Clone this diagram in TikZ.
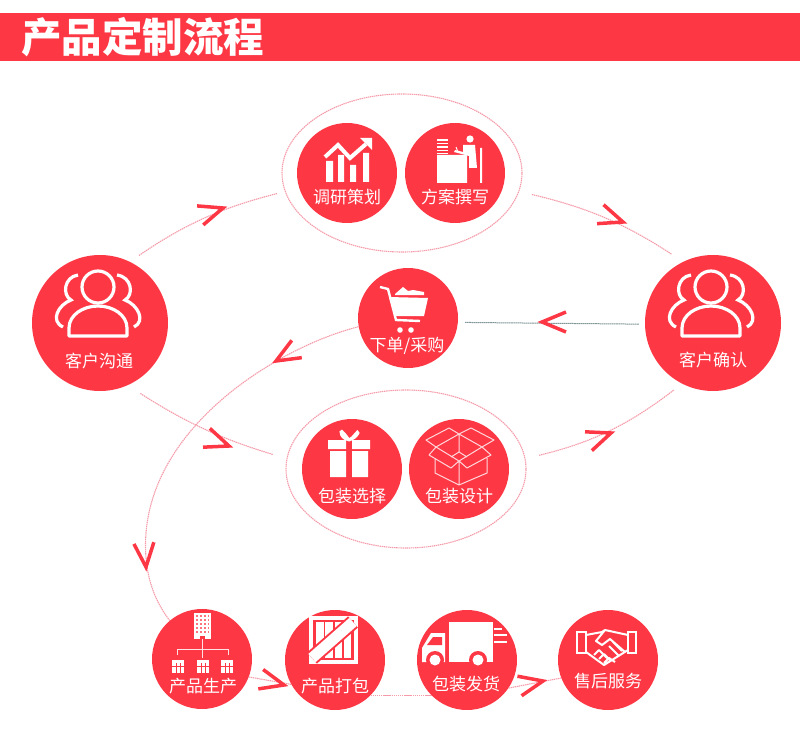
\documentclass[tikz,border=0pt]{standalone}
\usepackage{fontspec}
\setmainfont{Noto Sans CJK SC}
\usetikzlibrary{shapes.geometric}

\definecolor{flow}{HTML}{FE3745}
\definecolor{trail}{HTML}{F59AA8}
\definecolor{rule}{HTML}{7F9597}

\tikzset{
    chevron/.pic={\draw[flow,line width=3.5pt,miter limit=6] (-24,-10) -- (0,0) -- (-24,10);},
    people/.pic={
        \draw[white,line width=3.2pt] (-2,-36) circle (16);
        \draw[white,line width=3.2pt,line join=round] (-31,13) -- (27,13) -- (27,5)
            .. controls (27,-8) and (13,-17) .. (-2,-17)
            .. controls (-17,-17) and (-31,-8) .. (-31,5) -- cycle;
        \draw[white,line width=3.2pt] (-22,-48) .. controls (-36,-46) and (-38,-28) .. (-29,-23)
            .. controls (-42,-18) and (-50,-2) .. (-37,4);
        \draw[white,line width=3.2pt] (17,-48) .. controls (32,-46) and (34,-28) .. (25,-23)
            .. controls (38,-18) and (46,-2) .. (34,4);
    },
    trend/.pic={
        \fill[white] (-21,-12) rectangle (-14,9) (-9,-18) rectangle (-3,9)
            (3,-8) rectangle (9,9) (16,-20) rectangle (22,9);
        \draw[white,line width=4pt] (-22,-16) -- (-9,-28) -- (3,-15) -- (19,-29);
        \fill[white] (13,-35) -- (25,-35) -- (25,-23) -- cycle;
    },
    desk/.pic={
        \fill[white] (-18,-18) rectangle (12,10) (25,-25) rectangle (27,10);
        \fill[white] (15,-34) circle (3.6);
        \fill[white] (8,-28) -- (20,-28) -- (22,-5) -- (14,-5) -- (14,-17) -- (-1,-21) -- (0,-23) -- (8,-21) -- cycle;
        \draw[white,line width=1pt] (1,-26) -- (3,-21);
        \foreach \rowy in {-33,-29.5,-26,-22.5,-19.5} \draw[white,line width=1.6pt] (-18,\rowy) -- (-7,\rowy);
    },
    cart/.pic={
        \draw[white,line width=2.4pt] (-28,-31) -- (-20,-29) -- (-12,2) -- (12,3);
        \fill[white] (-19,-21) -- (20,-20) -- (16,-2) -- (-13,-2) -- cycle;
        \fill[white] (-13,-24) -- (-5,-31) -- (0,-27) -- (5,-28) -- (16,-26) -- (16,-23) -- (-13,-23) -- cycle;
        \fill[white] (-8,12) circle (2.8) (3,12) circle (2.8);
    },
    gift/.pic={
        \fill[white] (-24,-29) rectangle (-6,-20) (0,-29) rectangle (18,-20)
            (-22,-18) rectangle (-6,8) (0,-18) rectangle (16,8);
        \draw[white,line width=2.8pt] (-3,-29) .. controls (-6,-33) and (-11,-40) .. (-11,-37)
            .. controls (-11,-33) and (-8,-30) .. (-3,-29)
            .. controls (2,-31) and (6,-40) .. (6,-36) .. controls (5,-33) and (1,-30) .. (-3,-29);
    },
    carton/.pic={
        \draw[white!80!flow,line width=1pt,line join=round]
            (0,-35) -- (-10,-41) -- (-33,-29) -- (-23,-22) -- (0,-8) -- (23,-22) -- (35,-29) -- (12,-41) -- (0,-35)
            (-23,-22) -- (0,-35) -- (23,-22)
            (-23,-22) -- (-30,-14) -- (-8,-1) -- (0,-8) -- (8,-1) -- (32,-14) -- (23,-22)
            (-24,-11) -- (-24,4) -- (0,16) -- (28,4) -- (28,-11)
            (0,-8) -- (0,16) (0,-35) -- (0,-17) (-8,-12) -- (0,-17) -- (8,-12);
    },
    plant/.pic={
        \fill[white] (-8,-46) rectangle (9,-20);
        \foreach \winy in {-43,-39,-35,-31,-27} \foreach \winx in {-5,-1,3,6.5}
            \fill[flow!70!white] (\winx-.6,\winy-.6) rectangle (\winx+.6,\winy+.6);
        \fill[flow] (-2,-23) rectangle (3,-20);
        \draw[white!85!flow,line width=.9pt] (.5,-20) -- (.5,-1) (-25,-4) -- (-25,-10) -- (26,-10) -- (26,-4);
        \foreach \shedx in {-24,1,25} {
            \fill[white] (\shedx-6,1) rectangle (\shedx+6,14);
            \draw[flow,line width=1pt] (\shedx-2,4) -- (\shedx-2,14) (\shedx+2,4) -- (\shedx+2,14) (\shedx-6,7) -- (\shedx+6,7);
        }
    },
    crate/.pic={
        \fill[white] (-26,-44) rectangle (23,4);
        \fill[flow] (-22,-40) rectangle (19,0);
        \foreach \slatx in {-19,-9.7,-.4,8.9} \fill[white] (\slatx,-38) rectangle (\slatx+7.5,-2);
        \fill[flow] (-27.9,-7.6) -- (13.1,-43.6) -- (22.9,-32.4) -- (-18.1,3.6) -- cycle;
        \fill[white] (-26.6,-6.1) -- (14.4,-42.1) -- (21.6,-33.9) -- (-19.4,2.1) -- cycle;
    },
    truck/.pic={
        \fill[white] (-18,-38) rectangle (26,2);
        \fill[white] (-45,2) -- (-45,-12) -- (-36,-27) -- (-22,-27) -- (-22,2) -- cycle;
        \fill[flow] (-34,-23) -- (-25,-23) -- (-25,-15) -- (-40,-15) -- cycle;
        \fill[flow] (-32,0) circle (9) (11,0) circle (9);
        \fill[white] (-32,0) circle (5.5) (11,0) circle (5.5);
        \draw[white,line width=1.6pt] (27,-31) -- (35,-31) (27,-25) -- (40,-25) (27,-18) -- (40,-18);
    },
    shake/.pic={
        \draw[white,line width=2pt] (-31,-28) rectangle (-22,-7) (20,-28) rectangle (28,-7);
        \draw[white,line width=2pt,line join=round] (-22,-25) -- (-6,-28) -- (-3,-30) -- (20,-25)
            (-22,-8) -- (-4,5) -- (20,-10)
            (-3,-30) -- (-12,-19) -- (-6,-15) -- (2,-21) -- (17,-8)
            (-14,-5) -- (-9,-10) -- (-1,-2) (-9,-1) -- (-4,-6) -- (3,1) (-4,3) -- (1,-2) -- (7,2)
            (1,-14) -- (10,-5) (5,-18) -- (14,-9);
    }
}

\begin{document}
\begin{tikzpicture}[x=1pt,y=-1pt]
    \tikzstyle{disc}=[circle,fill=flow,minimum size=100pt,inner sep=0pt]
    \tikzstyle{bigdisc}=[circle,fill=flow,minimum size=136pt,inner sep=0pt]
    \tikzstyle{halo}=[ellipse,draw=trail,dash pattern=on 1.4pt off .7pt,line width=1.1pt,minimum width=240pt,minimum height=158pt,inner sep=0pt]
    \tikzstyle{caption}=[text=white,font=\fontsize{17}{17}\selectfont,inner sep=0pt]
    \tikzstyle{link}=[color=trail,draw,dash pattern=on 1.4pt off .7pt,line width=1.1pt]

    \useasboundingbox (0,0) rectangle (800,751);

    % header bar
    \node[fill=flow,minimum width=800pt,minimum height=48pt,inner sep=0pt] (bar) at (400,37) {};
    \node[text=white,anchor=west,inner sep=0pt,font=\fontsize{40.5}{40.5}\selectfont\bfseries] (title) at (21,37) {产品定制流程};

    % groups
    \node[halo] (planhalo) at (402,173) {};
    \node[halo] (packhalo) at (406,469) {};

    \node[bigdisc] (talk) at (100,323) {};
    \node[bigdisc] (confirm) at (713,323) {};
    \node[disc] (survey) at (347,173) {};
    \node[disc] (write) at (455,173) {};
    \node[disc] (order) at (408,318) {};
    \node[disc] (choose) at (352,469) {};
    \node[disc] (design) at (459,469) {};
    \node[disc] (make) at (202,659) {};
    \node[disc] (box) at (335,660) {};
    \node[disc] (ship) at (467,660) {};
    \node[disc] (service) at (608,660) {};

    \node[caption] (talktext) at (99,361) {客户沟通};
    \node[caption] (confirmtext) at (713,360) {客户确认};
    \node[caption] (surveytext) at (347,197) {调研策划};
    \node[caption] (writetext) at (455,197) {方案撰写};
    \node[caption] (ordertext) at (407,346) {下单/采购};
    \node[caption] (choosetext) at (352,496) {包装选择};
    \node[caption] (designtext) at (459,496) {包装设计};
    \node[caption] (maketext) at (203,686) {产品生产};
    \node[caption] (boxtext) at (335,686) {产品打包};
    \node[caption] (shiptext) at (466,684) {包装发货};
    \node[caption] (servicetext) at (608,681) {售后服务};

    % icons
    \pic at (talk) {people};
    \pic at (confirm) {people};
    \pic at (survey) {trend};
    \pic at (write) {desk};
    \pic at (order) {cart};
    \pic at (choose) {gift};
    \pic at (design) {carton};
    \pic at (make) {plant};
    \pic at (box) {crate};
    \pic at (ship) {truck};
    \pic at (service) {shake};

    % connectors
    \path[link]
        (talk.64) edge [bend left=10,shorten <=11pt,shorten >=8pt] (planhalo.189)
        (planhalo.-9) edge [bend left=10,shorten <=13pt,shorten >=14pt] (confirm.116)
        (talk.-66) edge [bend right=8,shorten <=15pt,shorten >=14pt] (packhalo.175)
        (packhalo.5) edge [bend right=12,shorten <=14pt,shorten >=10pt] (confirm.-117)
        (make.-21) edge (box.209)
        (ship.-34) edge (service.201);
    \path[link,line width=1.4pt] (box.-45) -- (ship.225);
    \path[link]
        (order.190) .. controls (285,345) and (155,420) .. (146,533)
        .. controls (143.5,565) and (150,595) .. (make.130);
    \path[draw=rule,dash pattern=on 1.6pt off .5pt,line width=1pt,shorten <=6pt,shorten >=7pt] (confirm.181) -- (order.-5);

    % chevrons
    \pic[rotate=18] at (223,208) {chevron};
    \pic[rotate=-19] at (623,222) {chevron};
    \pic[rotate=-20] at (229,446) {chevron};
    \pic[rotate=20] at (611,433) {chevron};
    \pic[rotate=180] at (542,322) {chevron};
    \pic[rotate=210] at (276,361) {chevron};
    \pic[rotate=-85] at (146,567) {chevron};
    \pic[rotate=-14] at (284,685) {chevron};
    \pic[rotate=12] at (543,681) {chevron};
\end{tikzpicture}
\end{document}
